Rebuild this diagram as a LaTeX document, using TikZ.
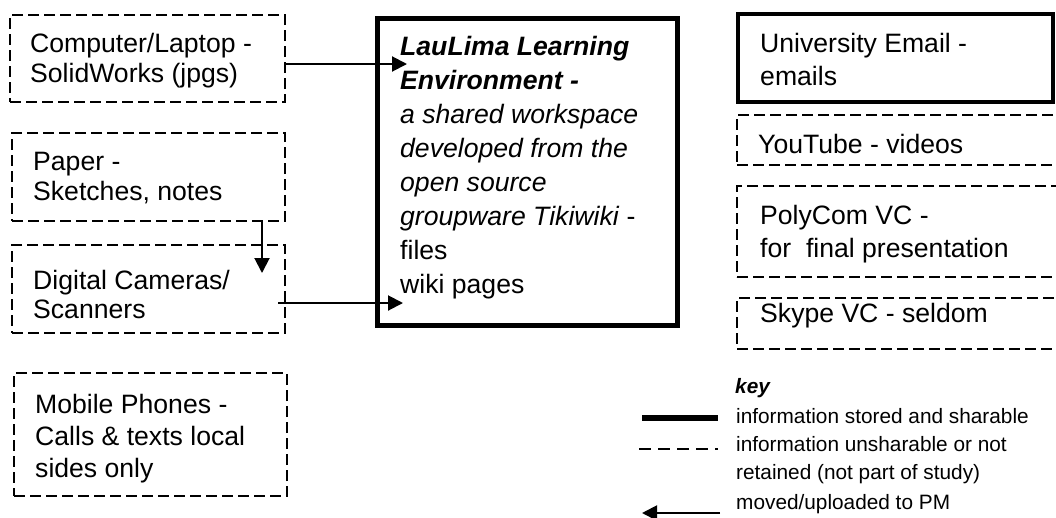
\documentclass[tikz,border=0pt]{standalone}
\usepackage{fontspec}
\setmainfont{Liberation Sans}
\usetikzlibrary{arrows.meta}
\newcommand\fl{\rule{0pt}{21pt}}
\newcommand\kl{\rule{0pt}{17pt}}
\begin{document}
\begin{tikzpicture}[x=1pt,y=-1pt,
 dbox/.style={draw, dash pattern=on 11pt off 5pt, line width=1.6pt, inner sep=0pt, outer sep=0pt},
 sbox/.style={draw, line width=#1, inner sep=0pt, outer sep=0pt},
 txt/.style={anchor=north west, inner sep=0pt, align=left, font=\fontsize{26.6}{#1}\selectfont},
 ktxt/.style={anchor=north west, inner sep=0pt, align=left, font=\fontsize{20.8}{28}\selectfont},
 conn/.style={line width=2pt, -{Triangle[length=15pt,width=15pt]}},
]
\useasboundingbox (0,0) rectangle (1056,517);
% left boxes
\node[dbox, minimum width=275, minimum height=87] (comp) at (147.5,58.5) {};
\node[dbox, minimum width=273, minimum height=88] (paper) at (148.5,177) {};
\node[dbox, minimum width=273, minimum height=88] (digi) at (148.5,289) {};
\node[dbox, minimum width=273, minimum height=123] (mob) at (150.5,434.5) {};
% main box
\node[sbox=5pt, minimum width=300, minimum height=307] (main) at (527,171.5) {};
% right boxes
\node[sbox=4pt, minimum width=315, minimum height=88] (uni) at (895.5,58) {};
\node[dbox, minimum width=325, minimum height=50] (yt) at (899.5,140) {};
\node[dbox, minimum width=325, minimum height=91] (poly) at (899.5,231.5) {};
\node[dbox, minimum width=325, minimum height=51] (sky) at (899.5,323.5) {};
% texts
\node[txt=30] (tcomp) at (30,31) {\fl Computer/Laptop -\\SolidWorks (jpgs)};
\node[txt=30] (tpaper) at (33,149) {\fl Paper -\\Sketches, notes};
\node[txt=29] (tdigi) at (33,268) {\fl Digital Cameras/\\Scanners};
\node[txt=32] (tmob) at (35,392) {\fl Mobile Phones -\\Calls \& texts local\\sides only};
\node[txt=34] (tmain) at (400,34) {\fl\textbf{\textit{LauLima Learning}}\\
 \textbf{\textit{Environment -}}\\
 \textit{a shared workspace}\\
 \textit{developed from the}\\
 \textit{open source}\\
 \textit{groupware Tikiwiki} -\\
 files\\
 wiki pages};
\node[txt=33] (tuni) at (760,31) {\fl University Email -\\emails};
\node[txt=30] (tyt) at (758,132) {\fl YouTube - videos};
\node[txt=33] (tpoly) at (760,203) {\fl PolyCom VC -\\for\ \ final presentation};
\node[txt=30] (tsky) at (760,301) {\fl Skype VC - seldom};
% connectors
\coordinate (a1) at (407,64);
\draw[conn] (comp.east |- a1) -- (a1);
\coordinate (a2) at (262,273);
\draw[conn] (paper.south -| a2) -- (a2);
\coordinate (a3s) at (278,303);
\coordinate (a3) at (403,303);
\draw[conn] (a3s) -- (a3);
% key
\node[ktxt] (kkey) at (735,376) {\kl\textbf{\textit{key}}};
\node[ktxt] (ktext) at (736,406) {\kl information stored and sharable\\information unsharable or not\\retained (not part of study)};
\node[ktxt] (kmove) at (736,492) {\kl moved/uploaded to PM};
\coordinate (k1a) at (642,418); \coordinate (k1b) at (718,418);
\draw[line width=5.5pt] (k1a) -- (k1b);
\coordinate (k2a) at (639,449); \coordinate (k2b) at (718,449);
\draw[line width=1.3pt, dash pattern=on 12pt off 7pt] (k2a) -- (k2b);
\coordinate (k3a) at (720,513); \coordinate (k3b) at (642,513);
\draw[conn] (k3a) -- (k3b);
\end{tikzpicture}
\end{document}
